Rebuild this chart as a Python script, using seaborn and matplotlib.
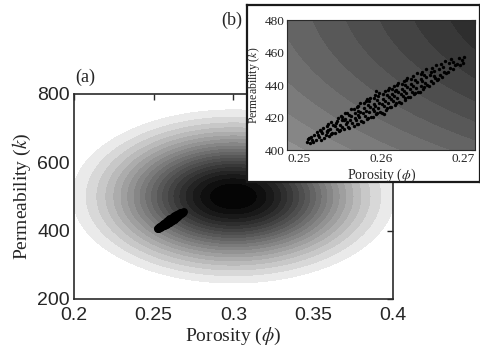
import numpy as np
import matplotlib
matplotlib.use("Agg")
import matplotlib.pyplot as plt
import seaborn as sns

# ---- data ----
mean_phi, mean_k = 0.30, 500.0
sigma_phi, sigma_k = 0.047, 118.0
n_levels = 20
outer_level = 0.10

main_xticks = [0.2, 0.25, 0.3, 0.35, 0.4]
main_xticklabels = ["0.2", "0.25", "0.3", "0.35", "0.4"]
main_yticks = [200, 400, 600, 800]
inset_xticks = [0.25, 0.26, 0.27]
inset_xticklabels = ["0.25", "0.26", "0.27"]
inset_yticks = [400, 420, 440, 460, 480]

scatter_phi = [
    0.2521, 0.2523, 0.2524, 0.2526, 0.2527, 0.2529, 0.2528, 0.2522,
    0.2531, 0.2532, 0.2534, 0.2535, 0.2536, 0.2537, 0.2538, 0.2539, 0.2533, 0.2536,
    0.2541, 0.2542, 0.2543, 0.2544, 0.2545, 0.2546, 0.2547, 0.2548, 0.2549, 0.2544, 0.2547, 0.2542,
    0.2551, 0.2552, 0.2553, 0.2554, 0.2555, 0.2556, 0.2557, 0.2558, 0.2559, 0.2553, 0.2556, 0.2558, 0.2551,
    0.2561, 0.2562, 0.2563, 0.2564, 0.2565, 0.2566, 0.2567, 0.2568, 0.2569, 0.2562, 0.2564, 0.2566, 0.2568, 0.2561,
    0.2571, 0.2572, 0.2573, 0.2574, 0.2575, 0.2576, 0.2577, 0.2578, 0.2579, 0.2572, 0.2574, 0.2576, 0.2578, 0.2575, 0.2571,
    0.2581, 0.2582, 0.2583, 0.2584, 0.2585, 0.2586, 0.2587, 0.2588, 0.2589, 0.2582, 0.2584, 0.2586, 0.2588, 0.2581, 0.2587, 0.2585,
    0.2591, 0.2592, 0.2593, 0.2594, 0.2595, 0.2596, 0.2597, 0.2598, 0.2599, 0.2592, 0.2594, 0.2596, 0.2598, 0.2591, 0.2597, 0.2595,
    0.2601, 0.2602, 0.2603, 0.2604, 0.2605, 0.2606, 0.2607, 0.2608, 0.2609, 0.2602, 0.2604, 0.2606, 0.2608, 0.2601, 0.2607, 0.2603,
    0.2611, 0.2612, 0.2613, 0.2614, 0.2615, 0.2616, 0.2617, 0.2618, 0.2619, 0.2612, 0.2614, 0.2616, 0.2618, 0.2611, 0.2617, 0.2615,
    0.2621, 0.2622, 0.2623, 0.2624, 0.2625, 0.2626, 0.2627, 0.2628, 0.2629, 0.2622, 0.2624, 0.2626, 0.2628, 0.2621, 0.2627,
    0.2631, 0.2632, 0.2633, 0.2634, 0.2635, 0.2636, 0.2637, 0.2638, 0.2639, 0.2632, 0.2634, 0.2636, 0.2638, 0.2631,
    0.2641, 0.2642, 0.2643, 0.2644, 0.2645, 0.2646, 0.2647, 0.2648, 0.2649, 0.2642, 0.2644, 0.2646, 0.2648,
    0.2651, 0.2652, 0.2653, 0.2654, 0.2655, 0.2656, 0.2657, 0.2658, 0.2659, 0.2653, 0.2656,
    0.2661, 0.2662, 0.2663, 0.2664, 0.2665, 0.2666, 0.2667, 0.2668, 0.2669,
    0.2671, 0.2672, 0.2673, 0.2674, 0.2676, 0.2677, 0.2679,
    0.2681, 0.2683, 0.2684, 0.2686, 0.2688, 0.2687,
]
scatter_k = [
    405.2, 407.1, 404.6, 408.3, 406.0, 409.4, 404.9, 406.6,
    406.3, 410.8, 408.1, 412.6, 405.9, 410.2, 413.4, 407.7, 409.5, 411.9,
    409.2, 414.7, 411.0, 416.3, 408.4, 413.1, 417.5, 410.6, 415.2, 412.4, 409.9, 411.8,
    410.5, 416.9, 413.2, 419.8, 411.7, 415.4, 421.0, 414.1, 418.6, 417.7, 412.3, 420.2, 414.8,
    412.9, 419.4, 416.0, 423.1, 414.3, 421.7, 418.2, 425.0, 416.8, 422.5, 417.1, 413.6, 420.9, 418.3,
    414.9, 422.8, 418.5, 426.7, 416.2, 424.1, 420.3, 428.9, 418.0, 419.6, 415.8, 427.3, 423.2, 421.4, 425.2,
    417.3, 425.9, 421.1, 430.2, 418.8, 427.5, 423.6, 432.1, 420.4, 428.8, 424.0, 419.5, 426.3, 422.7, 429.9, 431.4,
    420.1, 428.4, 424.2, 433.6, 421.9, 430.7, 426.1, 435.0, 423.3, 431.8, 427.0, 422.6, 429.2, 425.5, 433.0, 436.2,
    423.0, 431.5, 427.1, 436.4, 424.8, 433.9, 429.0, 438.3, 426.2, 434.7, 430.1, 425.7, 432.4, 428.3, 436.9, 421.9,
    426.4, 434.6, 430.0, 439.5, 427.6, 437.1, 432.2, 441.4, 429.3, 437.8, 433.3, 428.7, 435.5, 431.2, 440.0, 436.3,
    429.0, 437.4, 433.1, 442.6, 430.9, 440.2, 435.3, 444.5, 432.6, 440.9, 436.4, 431.8, 438.6, 434.3, 443.1,
    432.5, 440.7, 436.0, 445.4, 434.2, 443.3, 438.4, 447.6, 435.9, 444.0, 439.5, 435.1, 441.7, 437.4,
    436.0, 443.8, 439.2, 448.1, 437.6, 446.2, 441.5, 450.0, 439.8, 447.0, 442.6, 438.9, 445.0,
    439.6, 446.5, 442.3, 450.7, 441.0, 448.9, 444.6, 452.3, 443.2, 447.8, 445.3,
    443.5, 449.6, 446.0, 453.1, 444.9, 451.4, 448.0, 454.6, 447.3,
    448.2, 453.4, 450.5, 455.9, 449.9, 454.5, 452.1,
    453.0, 456.8, 452.6, 455.4, 457.2, 453.9,
]

# ---- style ----
sns.set_style("white")
plt.rcParams["font.family"] = ["Liberation Serif", "DejaVu Serif"]
plt.rcParams["mathtext.fontset"] = "stix"
sans = ["Liberation Sans", "DejaVu Sans"]
serif = ["Liberation Serif", "DejaVu Serif"]
spine_col = "#2a2a2a"

fig = plt.figure(figsize=(4.81, 3.53), dpi=100)
fig.patch.set_facecolor("white")

# density field
gx = np.linspace(0.15, 0.45, 500)
gy = np.linspace(150, 850, 500)
X, Y = np.meshgrid(gx, gy)
Z = np.exp(-0.5 * ((X - mean_phi) / sigma_phi) ** 2 - 0.5 * ((Y - mean_k) / sigma_k) ** 2)
levels = np.linspace(outer_level, 1.0, n_levels + 1)
mids = 0.5 * (levels[:-1] + levels[1:])
norm = (mids - outer_level) / (1 - outer_level)
band_cols = [str(max(0.0, 0.97 * (1 - v ** 0.8))) for v in norm]

# ---- main axes ----
ax = fig.add_axes([0.1538, 0.153, 0.663, 0.581])
ax.contourf(X, Y, Z, levels=levels, colors=band_cols, antialiased=False)
sns.scatterplot(x=scatter_phi, y=scatter_k, ax=ax, color="black", s=22, linewidth=0, legend=False, zorder=3)
ax.set_xlim(0.2, 0.4)
ax.set_ylim(200, 800)
ax.set_xticks(main_xticks)
ax.set_xticklabels(main_xticklabels, fontfamily=sans, fontsize=14)
ax.set_yticks(main_yticks)
ax.set_yticklabels([str(v) for v in main_yticks], fontfamily=sans, fontsize=14)
ax.tick_params(direction="in", length=4, width=1, top=True, right=True, color=spine_col)
ax.tick_params(axis="x", pad=6)
ax.tick_params(axis="y", pad=3)
for s in ax.spines.values():
    s.set_color(spine_col)
    s.set_linewidth(1.2)
ax.set_xlabel(r"Porosity ($\phi$)", fontfamily=serif, fontsize=14, labelpad=1)
ax.set_ylabel(r"Permeability ($k$)", fontfamily=serif, fontsize=14, labelpad=3)
fig.text(85 / 481, 1 - 77 / 353, "(a)", ha="center", va="center", fontfamily=serif, fontsize=13)

# ---- inset white box ----
box = fig.add_axes([0.5135, 0.4844, 0.484, 0.501])
box.set_facecolor("white")
box.set_xticks([])
box.set_yticks([])
for s in box.spines.values():
    s.set_color("#1a1a1a")
    s.set_linewidth(1.6)
fig.text(232 / 481, 1 - 20 / 353, "(b)", ha="center", va="center", fontfamily=serif, fontsize=13)

# ---- inset axes ----
ins = fig.add_axes([0.5967, 0.575, 0.391, 0.368])
ins.contourf(X, Y, Z, levels=levels, colors=band_cols, antialiased=False)
sns.scatterplot(x=scatter_phi, y=scatter_k, ax=ins, color="black", s=6, linewidth=0, legend=False, zorder=3)
ins.set_xlim(0.25, 0.27)
ins.set_ylim(400, 480)
ins.set_xticks(inset_xticks)
ins.set_xticklabels(inset_xticklabels, fontfamily=serif, fontsize=9.5)
xl = ins.get_xticklabels()
xl[0].set_ha("left")
xl[-1].set_ha("right")
ins.set_yticks(inset_yticks)
ins.set_yticklabels([str(v) for v in inset_yticks], fontfamily=serif, fontsize=9.5)
ins.tick_params(direction="in", length=3, width=0.8, top=True, right=True, color=spine_col, pad=2)
for s in ins.spines.values():
    s.set_color(spine_col)
    s.set_linewidth(0.8)
ins.set_xlabel(r"Porosity ($\phi$)", fontfamily=serif, fontsize=10, labelpad=1)
ins.set_ylabel(r"Permeability ($k$)", fontfamily=serif, fontsize=8.5, labelpad=2)

fig.savefig("out.png", dpi=100, facecolor="white")
